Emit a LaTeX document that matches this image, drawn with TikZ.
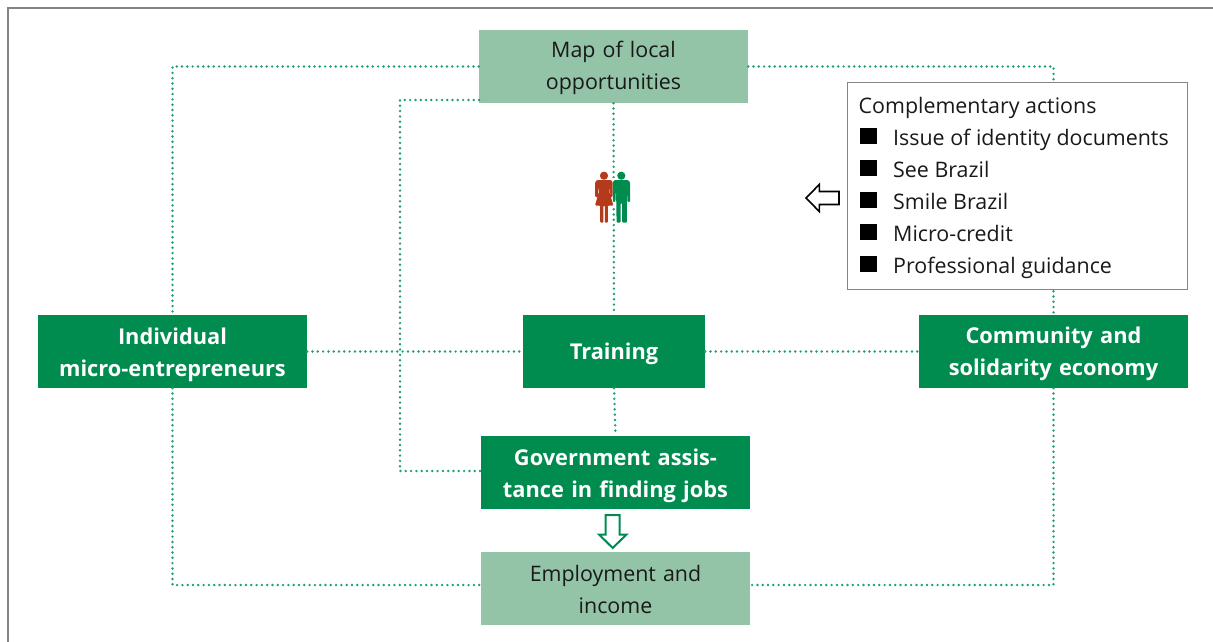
\documentclass[tikz,border=0pt]{standalone}
\usepackage{fontspec}
\setmainfont{Open Sans}
\definecolor{dkgreen}{HTML}{008C4F}
\definecolor{ltgreen}{HTML}{93C4A7}
\definecolor{dotgreen}{HTML}{1FA072}
\definecolor{framegray}{HTML}{858585}
\definecolor{woman}{HTML}{B5391B}
\tikzset{
  box/.style={rectangle,inner sep=0pt,align=center,text width=#1,minimum height=73pt,minimum width=#1},
  basedrop/.style={text height=20pt,text depth={20pt+2*#1}},
  darkbox/.style={box=#1,fill=dkgreen,text=white,font=\fontsize{21.8}{32}\selectfont\bfseries},
  lightbox/.style={box=#1,fill=ltgreen,text=black!90,font=\fontsize{21.4}{32}\selectfont},
  dotline/.style={draw=dotgreen,line width=2.7pt,line cap=round,dash pattern=on 0pt off 5.3pt},
  listtext/.style={anchor=base west,inner sep=0pt,font=\fontsize{21.4}{32}\selectfont,text=black!90},
  bullet/.style={fill=black,inner sep=0pt,minimum size=16.5pt,rectangle},
}
\begin{document}
\begin{tikzpicture}[x=1pt,y=-1pt]
\useasboundingbox (0,0) rectangle (1213,642);
\draw[framegray,line width=1.4pt] (8,642) -- (8,8) -- (1213,8);
% boxes
\node[lightbox=269pt,basedrop=8.5pt] (map) at (613.5,66.5) {Map of local\\opportunities};
\node[darkbox=269pt,basedrop=7.5pt] (micro) at (172.5,351.5) {Individual\\micro-entrepreneurs};
\node[darkbox=182pt,basedrop=-7.5pt] (training) at (614,351.5) {Training};
\node[darkbox=269pt,basedrop=8pt] (community) at (1053.5,351.5) {Community and\\solidarity economy};
\node[darkbox=269pt,basedrop=7.5pt] (gov) at (615.5,472.5) {Government assis-\\tance in finding jobs};
\node[lightbox=269pt,basedrop=7pt] (emp) at (615.5,588.5) {Employment and\\income};
\coordinate (mapleft) at (479,100);
\coordinate (govleft) at (400,100);
\coordinate (empleft) at (481,585);
\coordinate (empright) at (750,585);
\coordinate (govin) at (481,471);
% connectors
\draw[dotline] (map.west) -| (micro.north);
\draw[dotline] (map.east) -| (community.north);
\draw[dotline] (mapleft) -- (govleft) |- (govin);
\draw[dotline] (map.south) -- (training.north);
\draw[dotline] (micro.east) -- (training.west);
\draw[dotline] (training.east) -- (community.west);
\draw[dotline] (training.south) -- (gov.north);
\draw[dotline] (micro.south) |- (empleft);
\draw[dotline] (community.south) |- (empright);
% people
\fill[white] (601,178) rectangle (625,207);
\fill[woman] (604,175.7) circle (4.1);
\fill[woman,rounded corners=1pt] (597,180) -- (611,180) -- (612.6,182) -- (612.6,197) -- (610.4,197) -- (610,187) -- (609.4,192) -- (613.4,205.5) -- (607.8,205.5) -- (607.8,222.7) -- (604.8,222.7) -- (604.8,205.5) -- (603.4,205.5) -- (603.4,222.7) -- (600.2,222.7) -- (600.2,205.5) -- (595,205.5) -- (598.8,192) -- (598,187) -- (597.8,197) -- (595.2,197) -- (595.2,182) -- cycle;
\fill[dkgreen] (621.3,175.7) circle (4.1);
\fill[dkgreen,rounded corners=1pt] (614.5,180) -- (628,180) -- (630,182) -- (630,202) -- (627.4,202) -- (627,187) -- (626.8,222.7) -- (622.2,222.7) -- (622.2,203) -- (620.6,203) -- (620.6,222.7) -- (616.6,222.7) -- (616,187) -- (615.4,202) -- (612.8,202) -- (612.8,182) -- cycle;
% complementary actions box
\node[rectangle,fill=white,draw=framegray,line width=1pt,minimum width=340pt,minimum height=206pt,inner sep=0pt] (actions) at (1017,186) {};
\node[listtext] (title) at (858.5,113.5) {Complementary actions};
\node[bullet] (b1) at (868.3,136) {};
\node[listtext] (t1) at (893,145.5) {Issue of identity documents};
\node[bullet] (b2) at (868.3,168) {};
\node[listtext] (t2) at (893,177.5) {See Brazil};
\node[bullet] (b3) at (868.3,200) {};
\node[listtext] (t3) at (893,209.5) {Smile Brazil};
\node[bullet] (b4) at (868.3,232) {};
\node[listtext] (t4) at (893,241.5) {Micro-credit};
\node[bullet] (b5) at (868.3,264) {};
\node[listtext] (t5) at (893,273.5) {Professional guidance};
% hollow arrows
\draw[black,line width=1.6pt,fill=white,miter limit=10] (839,191.5) -- (819.3,191.5) -- (819.3,184.5) -- (806,198) -- (819.3,211.5) -- (819.3,204.5) -- (839,204.5) -- cycle;
\draw[dkgreen,line width=2pt,fill=white,miter limit=10] (605.7,515) -- (619.7,515) -- (619.7,534.5) -- (626.5,534.5) -- (612.7,548) -- (599,534.5) -- (605.7,534.5) -- cycle;
\end{tikzpicture}
\end{document}
